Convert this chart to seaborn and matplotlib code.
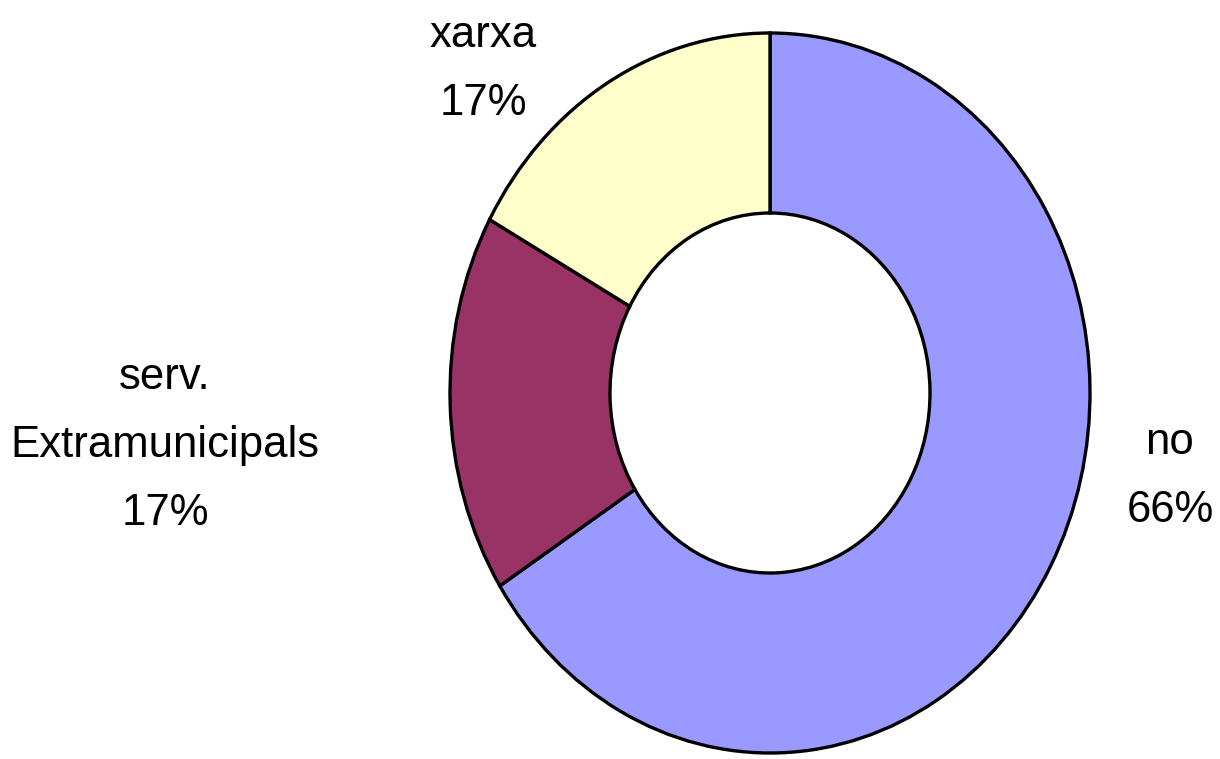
import matplotlib
matplotlib.use("Agg")
import matplotlib.pyplot as plt
import seaborn as sns

# Data
categories = ["no", "serv.\nExtramunicipals", "xarxa"]
values = [66, 17, 17]
colors = ["#9999FF", "#993366", "#FFFFCC"]

sns.set_theme(style="white")
plt.rcParams["font.family"] = ["Liberation Sans", "DejaVu Sans"]

fig = plt.figure(figsize=(12.2, 7.59), dpi=100)
ax = fig.add_axes([0, 0, 1, 1])

wedges, texts = ax.pie(
    values,
    labels=[f"{c}\n{v}%" for c, v in zip(categories, values)],
    colors=colors,
    startangle=90,
    counterclock=False,
    radius=1.0,
    wedgeprops=dict(width=0.5, edgecolor="black", linewidth=2.4),
    textprops=dict(fontsize=31.5, color="black"),
)
ax.set_aspect("auto")
ax.set_xlim(-770 / 320, 450 / 320)
ax.set_ylim(-366 / 360, 393 / 360)
ax.axis("off")

# label placement (x centre, last-line baseline)
label_pos = [(1.25, -0.358), (-1.891, -0.367), (-0.897, 0.772)]
for t, (x, y) in zip(texts, label_pos):
    t.set_position((x, y))
    t.set_horizontalalignment("center")
    t.set_verticalalignment("baseline")
    t.set_multialignment("center")
    t.set_linespacing(1.85)

fig.savefig("out.png", dpi=100, facecolor="white")
